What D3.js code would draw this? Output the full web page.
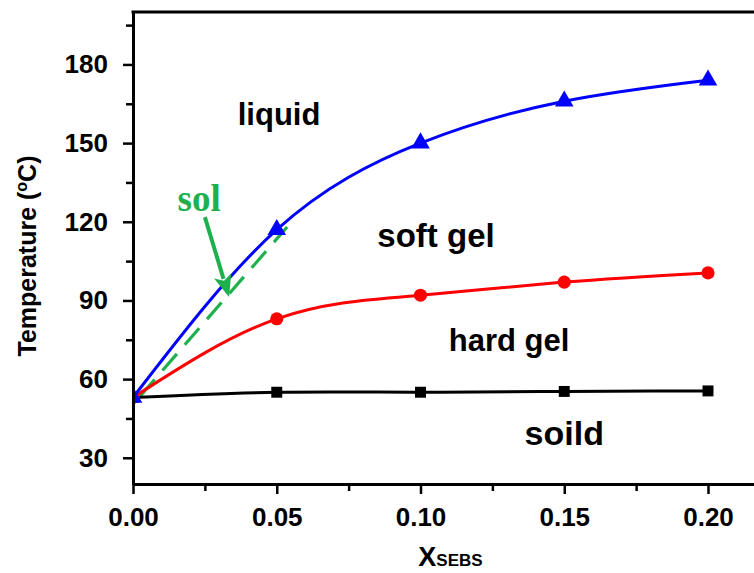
<!DOCTYPE html>
<html>
<head>
<meta charset="utf-8">
<script src="https://cdn.jsdelivr.net/npm/d3@7"></script>
<style>
  html, body { margin: 0; padding: 0; background: #fff; }
  svg { display: block; }
  text { font-family: Arial, "Liberation Sans", Helvetica, sans-serif; font-weight: bold; }
</style>
</head>
<body>
<svg id="chart" width="754" height="573"></svg>
<script>
// SEBS mole fraction at each measured composition
const xsebs = [0.00, 0.05, 0.10, 0.15, 0.20];
// Transition temperatures (°C)
const liquidBoundary = [53, 117, 150, 166, 174];   // soft gel -> liquid
const hardGelBoundary = [53, 83, 92, 97, 100.5];   // hard gel -> soft gel
const solidBoundary = [53, 55, 55, 55.3, 55.5];    // solid -> hard gel

const xTicks = [0.00, 0.05, 0.10, 0.15, 0.20];
const xMinorTicks = [0.025, 0.075, 0.125, 0.175];
const yTicks = [30, 60, 90, 120, 150, 180];
const yMinorTicks = [45, 75, 105, 135, 165, 195];

// Phase region labels, anchored in data units
const regionNames = ["liquid", "soft gel", "hard gel", "soild"];
const regionX = [0.0508, 0.1054, 0.1308, 0.150];
const regionT = [157, 110.4, 70.7, 34.9];
const regionSize = [31, 33, 31, 34];

// Sol region: dashed boundary and pointing arrow
const solLineX = [0.0025, 0.0536];
const solLineT = [53.5, 118];
const solArrowX = [0.0250, 0.0334];
const solArrowT = [121.8, 91.3];
const solLabelX = 0.0230, solLabelT = 124.1;

const svg = d3.select("#chart");
const mLeft = 133, mTop = 12, mBottom = 484, mRight = 765.5;

const x = d3.scaleLinear().domain([0, 0.22]).range([mLeft, mRight]);
const y = d3.scaleLinear().domain([20, 200]).range([mBottom, mTop]);

svg.append("defs").append("clipPath").attr("id", "plotClip")
  .append("rect").attr("x", mLeft).attr("y", mTop).attr("width", mRight - mLeft).attr("height", mBottom - mTop);

const plot = svg.append("g").attr("clip-path", "url(#plotClip)");

// Sol dashed boundary
plot.append("line")
  .attr("x1", x(solLineX[0])).attr("y1", y(solLineT[0]))
  .attr("x2", x(solLineX[1])).attr("y2", y(solLineT[1]))
  .attr("stroke", "#1fb04e").attr("stroke-width", 3.2)
  .attr("stroke-dasharray", "22,12");

const series = [
  { values: solidBoundary, color: "#000000", marker: d3.symbolSquare, size: 120 },
  { values: hardGelBoundary, color: "#ff0000", marker: d3.symbolCircle, size: 135 },
  { values: liquidBoundary, color: "#0000ff", marker: d3.symbolTriangle, size: 150 }
];

const line = d3.line()
  .x((d, i) => x(xsebs[i]))
  .y(d => y(d))
  .curve(d3.curveNatural);

series.forEach(s => {
  plot.append("path")
    .attr("d", line(s.values))
    .attr("fill", "none")
    .attr("stroke", s.color)
    .attr("stroke-width", 3);
  plot.selectAll(null)
    .data(s.values)
    .enter().append("path")
    .attr("transform", (d, i) => `translate(${x(xsebs[i])},${y(d)})`)
    .attr("d", d3.symbol().type(s.marker).size(s.size))
    .attr("fill", s.color);
});

// Arrow pointing at the sol region
(function () {
  const x1 = x(solArrowX[0]), y1 = y(solArrowT[0]);
  const x2 = x(solArrowX[1]), y2 = y(solArrowT[1]);
  const ang = Math.atan2(y2 - y1, x2 - x1);
  const headLen = 22, headW = 9;
  const bx = x2 - headLen * Math.cos(ang), by = y2 - headLen * Math.sin(ang);
  plot.append("line")
    .attr("x1", x1).attr("y1", y1).attr("x2", bx + 3 * Math.cos(ang)).attr("y2", by + 3 * Math.sin(ang))
    .attr("stroke", "#1fb04e").attr("stroke-width", 4);
  const px = -Math.sin(ang), py = Math.cos(ang);
  plot.append("path")
    .attr("d", `M${x2},${y2}L${bx + headW * px},${by + headW * py}L${bx + 5 * Math.cos(ang)},${by + 5 * Math.sin(ang)}L${bx - headW * px},${by - headW * py}Z`)
    .attr("fill", "#1fb04e");
})();

svg.append("text")
  .attr("x", x(solLabelX)).attr("y", y(solLabelT))
  .attr("text-anchor", "middle")
  .style("font-family", "'Liberation Serif', 'Times New Roman', serif")
  .style("font-size", "37px")
  .attr("fill", "#1fb04e")
  .text("sol");

// Region labels
regionNames.forEach((name, i) => {
  svg.append("text")
    .attr("x", x(regionX[i])).attr("y", y(regionT[i]))
    .attr("text-anchor", "middle")
    .style("font-size", regionSize[i] + "px")
    .attr("fill", "#000")
    .text(name);
});

// Axes
const axisW = 3;
svg.append("g").attr("transform", `translate(0,${mBottom})`)
  .call(d3.axisBottom(x).tickValues(xTicks).tickFormat(d3.format(".2f")).tickSize(10).tickPadding(14).tickSizeOuter(0));
svg.append("g").attr("transform", `translate(0,${mBottom})`)
  .call(d3.axisBottom(x).tickValues(xMinorTicks).tickFormat("").tickSize(7).tickSizeOuter(0));

svg.append("g").attr("transform", `translate(${mLeft},0)`)
  .call(d3.axisLeft(y).tickValues(yTicks).tickSize(10).tickPadding(15).tickSizeOuter(0));
svg.append("g").attr("transform", `translate(${mLeft},0)`)
  .call(d3.axisLeft(y).tickValues(yMinorTicks).tickFormat("").tickSize(7).tickSizeOuter(0));

svg.selectAll(".domain").attr("stroke", "#000").attr("stroke-width", axisW);
svg.selectAll(".tick line").attr("stroke", "#000").attr("stroke-width", 2.5);
svg.selectAll(".tick text")
  .style("font-size", "26px")
  .style("font-family", "Arial, 'Liberation Sans', sans-serif")
  .style("font-weight", "bold")
  .attr("fill", "#000");

// Top frame line
svg.append("line")
  .attr("x1", mLeft - axisW / 2).attr("x2", 754)
  .attr("y1", mTop).attr("y2", mTop)
  .attr("stroke", "#000").attr("stroke-width", axisW);

// Axis titles
const yTitle = svg.append("text")
  .attr("transform", `translate(36,${(mTop + mBottom) / 2 + 8}) rotate(-90)`)
  .attr("text-anchor", "middle")
  .style("font-size", "25px")
  .attr("fill", "#000");
yTitle.append("tspan").text("Temperature (");
yTitle.append("tspan").attr("dy", -9).style("font-size", "16px").text("o");
yTitle.append("tspan").attr("dy", 9).text("C)");

const xTitle = svg.append("text")
  .attr("x", x(0.10) + 30).attr("y", 566)
  .attr("text-anchor", "middle")
  .attr("fill", "#000");
xTitle.append("tspan").style("font-size", "27px").text("X");
xTitle.append("tspan").style("font-size", "17px").text("SEBS");
</script>
</body>
</html>
